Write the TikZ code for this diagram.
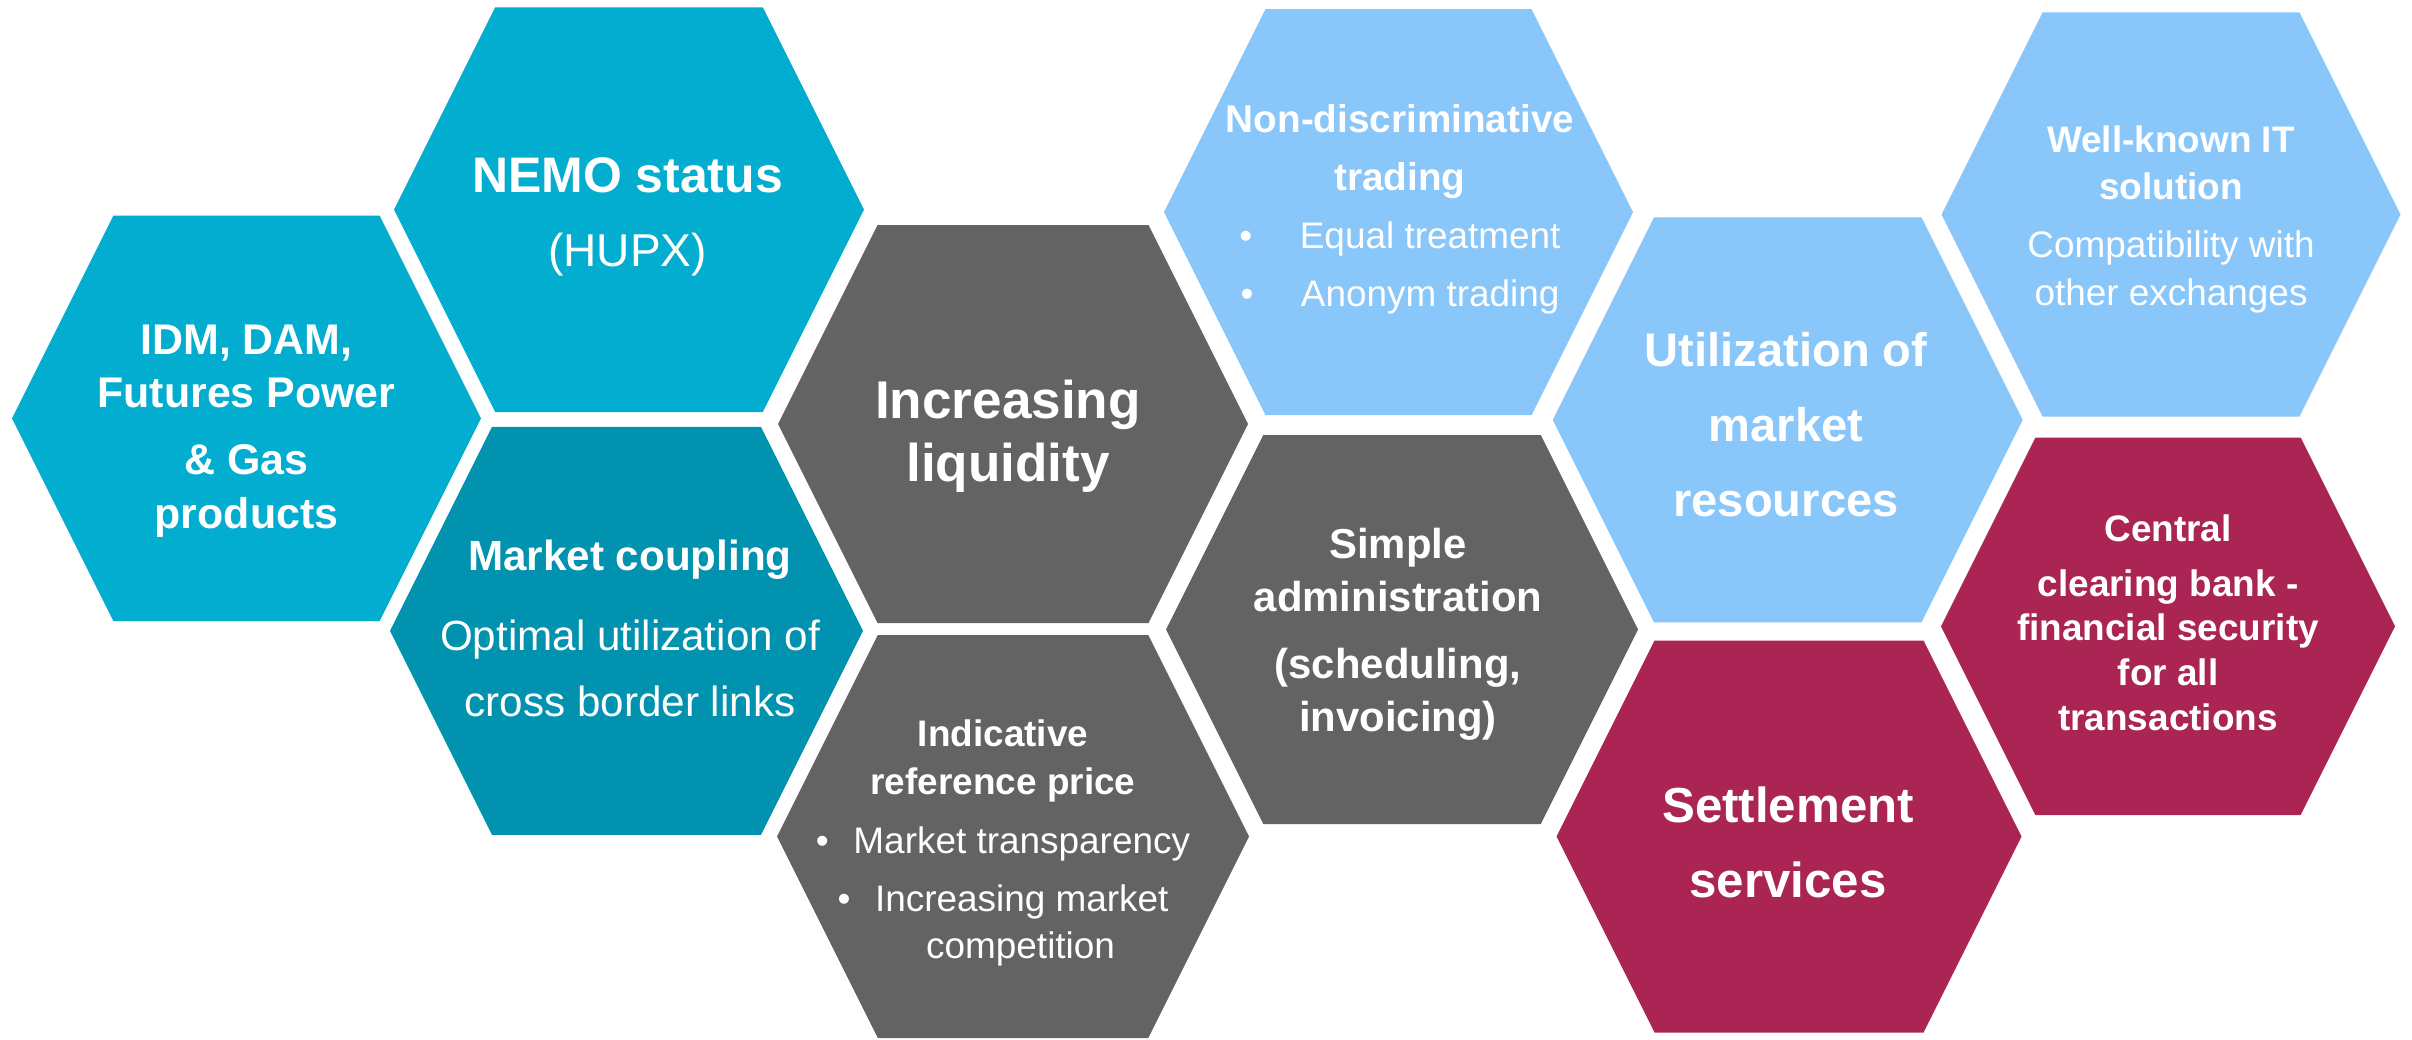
\documentclass[tikz,border=0pt]{standalone}
\usepackage{fontspec}
\setmainfont{Liberation Sans}
\definecolor{hupxteal}{HTML}{03ADD0}
\definecolor{darkteal}{HTML}{0192AF}
\definecolor{slategray}{HTML}{636363}
\definecolor{skyblue}{HTML}{89C6F9}
\definecolor{winered}{HTML}{AA2553}
\begin{document}
\begin{tikzpicture}[x=0.01cm,y=-0.01cm,
        lbl/.style={text=white,align=center,anchor=base,inner sep=0pt}]
        %% Frame
        \useasboundingbox (0,0) rectangle (2412,1039);
        %% Cells
        \foreach \x/\y/\w/\h/\c in {246.5/418.4/234.5/202.7/hupxteal,
                629/209.7/235/202.4/hupxteal,
                626.5/630.8/236.5/204/darkteal,
                1013/424/235/199/slategray,
                1013/836.5/236/201.5/slategray,
                1398.5/212.2/234.5/203/skyblue,
                1402/629.5/236/194.5/slategray,
                1787.7/419.8/235/202.5/skyblue,
                1789/836.5/232.5/196/winered,
                2171/214.5/229.5/202.2/skyblue,
                2168/626.3/227/188.7/winered}
            \fill[\c] (\x-\w,\y) -- (\x-\w+0.5*\h,\y-\h) -- (\x+\w-0.5*\h,\y-\h)
                -- (\x+\w,\y) -- (\x+\w-0.5*\h,\y+\h) -- (\x-\w+0.5*\h,\y+\h) -- cycle;
        %% Texts (placed by the baseline of their last line)
        \node[lbl,font=\bfseries\fontsize{12.2}{15.1}\selectfont] (products) at (246.5,528) {IDM, DAM,\\Futures Power\\[4pt]\& Gas\\products};
        \node[lbl,font=\fontsize{14.2}{21}\selectfont] (nemo) at (627.5,266.7) {\textbf{NEMO status}\\{\fontsize{13.1}{21}\selectfont(HUPX)}};
        \node[lbl,font=\fontsize{12}{18.8}\selectfont] (coupling) at (630,716.7) {\textbf{Market coupling}\\[4pt]Optimal utilization of\\cross border links};
        \node[lbl,font=\bfseries\fontsize{15.1}{17.9}\selectfont] (liquidity) at (1008,481.7) {Increasing\\liquidity};
        \node[lbl,font=\fontsize{10.5}{13.4}\selectfont] (refprice) at (1003,958.3) {\textbf{Indicative}\\\textbf{reference price}\\[3.4pt]\textbullet\hspace{7pt}Market transparency\\[3.1pt]\textbullet\hspace{7pt}Increasing market\\\hspace*{10pt}competition};
        \node[lbl,font=\fontsize{10.5}{16.5}\selectfont] (trading) at (1400,306.7) {{\bfseries\fontsize{11}{16.5}\selectfont Non-discriminative}\\{\bfseries\fontsize{11}{16.5}\selectfont trading}\\\textbullet\hspace{13.5pt}Equal treatment\\\textbullet\hspace{13.5pt}Anonym trading};
        \node[lbl,font=\bfseries\fontsize{11.9}{15.1}\selectfont] (admin) at (1398,731.7) {Simple\\administration\\[4pt](scheduling,\\invoicing)};
        \node[lbl,font=\bfseries\fontsize{13.4}{21.3}\selectfont] (resources) at (1786,516.7) {Utilization of\\market\\resources};
        \node[lbl,font=\bfseries\fontsize{14}{21.3}\selectfont] (settlement) at (1788,897.7) {Settlement\\services};
        \node[lbl,font=\fontsize{10.5}{13.4}\selectfont] (itsolution) at (2171,305) {\textbf{Well-known IT}\\\textbf{solution}\\[3.1pt]Compatibility with\\other exchanges};
        \node[lbl,font=\bfseries\fontsize{10.5}{12.7}\selectfont] (clearing) at (2168,730) {Central\\[2.9pt]clearing bank -\\financial security\\for all\\transactions};
    \end{tikzpicture}
\end{document}
